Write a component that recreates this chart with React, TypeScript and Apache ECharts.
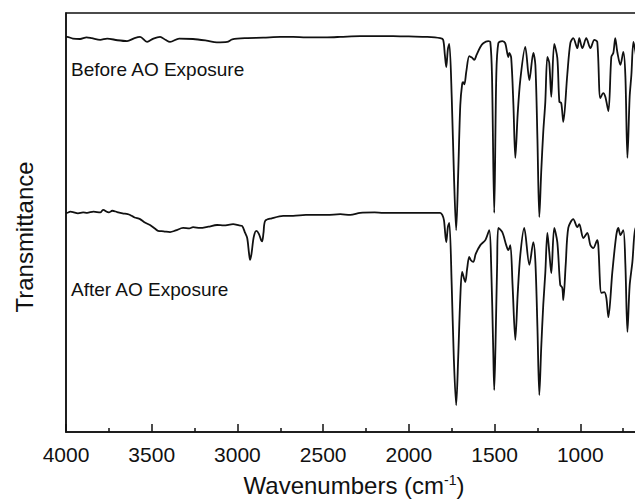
import React, { useEffect, useRef } from "react";
import * as echarts from "echarts";

// Wavenumber (cm^-1), transmittance (a.u.)
const beforeSpectrum: [number, number][] = [
  [4000, 94.3], [3994, 94.3], [3960, 93.9], [3918, 93.8], [3880, 94.2], [3850, 94.0], [3800, 93.6],
  [3760, 93.9], [3700, 93.5], [3644, 93.3], [3600, 94.0], [3568, 94.3], [3527, 93.1], [3490, 93.9],
  [3451, 94.3], [3420, 93.6], [3393, 93.1], [3340, 93.9], [3259, 93.8], [3180, 93.4], [3120, 93.0],
  [3060, 93.1], [3030, 93.7], [2950, 94.0], [2850, 94.1], [2750, 94.3], [2675, 94.3], [2600, 94.2],
  [2477, 94.2], [2400, 94.3], [2284, 94.5], [2200, 94.5], [2091, 94.5], [2000, 94.4], [1893, 94.3],
  [1817, 94.0], [1800, 93.6], [1790, 90.0], [1782, 87.1], [1772, 91.5], [1764, 92.6], [1750, 80.0],
  [1736, 60.0], [1724, 48.2], [1712, 62.0], [1700, 78.0], [1689, 83.1], [1683, 83.5], [1676, 83.0],
  [1665, 86.0], [1648, 89.7], [1638, 89.5], [1630, 89.3], [1618, 88.8], [1605, 90.0], [1583, 91.9],
  [1566, 92.8], [1537, 93.3], [1525, 93.1], [1515, 85.0], [1502, 52.3], [1490, 85.0], [1478, 92.8],
  [1455, 93.3], [1438, 92.8], [1420, 89.5], [1414, 90.5], [1403, 89.3], [1390, 78.0], [1379, 65.4],
  [1365, 76.0], [1350, 84.0], [1321, 91.9], [1297, 84.0], [1274, 90.5], [1262, 87.6], [1250, 70.0],
  [1239, 51.3], [1228, 62.0], [1216, 71.6], [1204, 78.8], [1192, 89.5], [1181, 88.1], [1169, 80.0],
  [1152, 92.6], [1134, 89.3], [1122, 78.8], [1111, 78.5], [1099, 74.0], [1076, 85.2], [1058, 92.8],
  [1041, 94.0], [1017, 91.6], [1006, 94.0], [988, 91.6], [965, 94.0], [941, 91.6], [918, 93.6],
  [901, 93.1], [883, 79.7], [866, 80.9], [854, 80.0], [836, 76.6], [819, 89.5], [807, 90.5],
  [796, 94.0], [784, 90.7], [766, 87.6], [749, 90.7], [737, 85.0], [725, 65.4], [712, 80.0],
  [702, 85.2], [690, 93.1], [679, 91.0], [665, 88.0], [650, 88.0],
];

const afterSpectrum: [number, number][] = [
  [4000, 52.3], [3994, 52.3], [3975, 52.6], [3959, 52.5], [3930, 52.2], [3900, 52.4], [3877, 52.3],
  [3840, 52.6], [3800, 52.4], [3784, 53.0], [3750, 52.4], [3730, 52.8], [3702, 52.5], [3670, 52.2],
  [3640, 52.0], [3626, 51.8], [3600, 51.2], [3568, 50.8], [3540, 50.0], [3510, 49.4], [3480, 48.5],
  [3463, 48.0], [3430, 47.9], [3393, 47.7], [3360, 48.1], [3317, 48.7], [3280, 48.6], [3259, 48.9],
  [3218, 48.7], [3170, 49.0], [3119, 49.4], [3080, 49.3], [3025, 49.6], [2990, 49.3], [2973, 49.2],
  [2955, 47.5], [2943, 46.3], [2932, 42.5], [2926, 41.1], [2918, 42.5], [2905, 46.5], [2890, 48.0],
  [2875, 47.3], [2862, 45.8], [2856, 45.5], [2848, 47.5], [2838, 50.4], [2800, 51.0], [2733, 51.6],
  [2675, 51.6], [2600, 51.8], [2535, 51.8], [2477, 51.8], [2400, 52.0], [2342, 51.8], [2284, 52.3],
  [2200, 52.4], [2150, 52.3], [2091, 52.3], [2000, 52.3], [1951, 52.3], [1893, 52.3], [1817, 52.3],
  [1805, 51.8], [1795, 50.5], [1782, 45.3], [1772, 49.0], [1764, 49.9], [1750, 35.0], [1738, 18.0],
  [1724, 6.4], [1712, 18.0], [1700, 32.0], [1689, 38.2], [1671, 35.8], [1660, 39.0], [1648, 41.8],
  [1638, 41.0], [1624, 40.6], [1610, 42.5], [1583, 44.6], [1554, 45.8], [1531, 48.2], [1520, 40.0],
  [1508, 20.0], [1502, 10.0], [1495, 20.0], [1485, 40.0], [1478, 48.7], [1455, 47.7], [1432, 44.6],
  [1420, 43.4], [1408, 44.6], [1395, 35.0], [1379, 22.0], [1365, 33.0], [1350, 42.2], [1327, 48.7],
  [1297, 39.9], [1274, 45.3], [1262, 40.6], [1250, 25.0], [1239, 8.8], [1228, 20.0], [1216, 30.3],
  [1204, 38.0], [1192, 47.5], [1181, 43.0], [1169, 37.9], [1152, 48.7], [1134, 45.3], [1117, 35.1],
  [1105, 34.4], [1099, 31.5], [1085, 40.0], [1070, 48.7], [1041, 50.8], [1017, 48.9], [1006, 49.6],
  [982, 46.3], [959, 47.5], [941, 44.6], [924, 43.9], [901, 45.8], [895, 44.6], [877, 33.2],
  [860, 33.4], [848, 32.0], [836, 27.4], [813, 38.2], [790, 47.0], [778, 48.7], [766, 47.0],
  [749, 48.2], [737, 40.0], [725, 23.9], [712, 35.0], [696, 40.6], [679, 48.7], [665, 46.0], [650, 46.0],
];

const xMin = 500;
const xMax = 4000;
const xInterval = 500;

const spectrumLabels = ["Before AO Exposure", "After AO Exposure"];
const yTitle = "Transmittance";

const FONT = '"Liberation Sans", Arial, Helvetica, sans-serif';
const INK = "#111111";

export default function App() {
  const ref = useRef<HTMLDivElement>(null);

  useEffect(() => {
    if (!ref.current) return;
    const chart = echarts.init(ref.current, undefined, { renderer: "svg" });
    chart.setOption({
      animation: false,
      backgroundColor: "#ffffff",
      grid: {
        left: 66,
        right: -31,
        top: 13,
        bottom: 68,
        outerBoundsMode: "none",
        containLabel: false,
        show: true,
        borderColor: INK,
        borderWidth: 1.5,
      },
      xAxis: {
        type: "value",
        inverse: true,
        min: xMin,
        max: xMax,
        interval: xInterval,
        axisLine: { show: true, onZero: false, lineStyle: { color: INK, width: 1.5 } },
        axisTick: { show: true, inside: true, length: 8, lineStyle: { color: INK, width: 1.5 } },
        minorTick: { show: true, splitNumber: 2, length: 4, lineStyle: { color: INK, width: 1.5 } },
        splitLine: { show: false },
        axisLabel: {
          margin: 12,
          fontSize: 21,
          fontFamily: FONT,
          color: INK,
          showMinLabel: false,
          formatter: (v: number) => String(v),
        },
      },
      yAxis: {
        type: "value",
        min: 0,
        max: 100,
        axisLine: { show: true, lineStyle: { color: INK, width: 1.5 } },
        axisTick: { show: false },
        axisLabel: { show: false },
        splitLine: { show: false },
      },
      graphic: [
        {
          type: "text",
          x: 71,
          y: 69,
          style: {
            text: spectrumLabels[0],
            fontSize: 19,
            fontFamily: FONT,
            fill: INK,
            align: "left",
            verticalAlign: "middle",
          },
        },
        {
          type: "text",
          x: 71,
          y: 289,
          style: {
            text: spectrumLabels[1],
            fontSize: 19,
            fontFamily: FONT,
            fill: INK,
            align: "left",
            verticalAlign: "middle",
          },
        },
        {
          type: "text",
          x: 24,
          y: 237,
          rotation: Math.PI / 2,
          style: {
            text: yTitle,
            fontSize: 24,
            fontFamily: FONT,
            fill: INK,
            align: "center",
            verticalAlign: "middle",
          },
        },
        {
          type: "text",
          x: 354,
          y: 485,
          style: {
            text: "{a|Wavenumbers (cm}{s|-1}{a|)}",
            align: "center",
            verticalAlign: "middle",
            fill: INK,
            rich: {
              a: { fontSize: 24, fontFamily: FONT, fill: INK, verticalAlign: "bottom" },
              s: { fontSize: 14, fontFamily: FONT, fill: INK, verticalAlign: "top" },
            },
          },
        },
      ],
      series: [
        {
          name: spectrumLabels[0],
          type: "line",
          data: beforeSpectrum,
          showSymbol: false,
          smooth: 0.3,
          lineStyle: { color: INK, width: 1.8 },
        },
        {
          name: spectrumLabels[1],
          type: "line",
          data: afterSpectrum,
          showSymbol: false,
          smooth: 0.3,
          lineStyle: { color: INK, width: 1.8 },
        },
      ],
    });
    return () => chart.dispose();
  }, []);

  return (
    <div
      ref={ref}
      style={{ position: "fixed", left: 0, top: 0, width: 635, height: 500, background: "#fff" }}
    />
  );
}
